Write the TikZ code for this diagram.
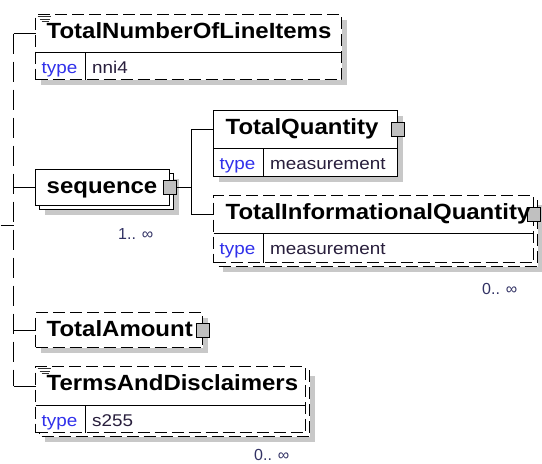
\documentclass[tikz,border=0pt]{standalone}
\usepackage{fontspec}
\setmainfont{Liberation Sans}
\usepackage{graphicx}
\definecolor{typeblue}{RGB}{48,48,235}
\definecolor{valcol}{RGB}{40,30,60}
\definecolor{multcol}{RGB}{50,50,100}
\definecolor{shadowgray}{RGB}{200,200,200}
\definecolor{sqgray}{RGB}{192,192,192}
\newcommand{\ttlx}[1]{\scalebox{1.09}[1]{#1}}
\newcommand{\smlx}[1]{\scalebox{1.11}[1]{#1}}
\tikzset{
  frame/.style={draw=black, fill=white, line width=1pt, anchor=north west, inner sep=0pt, outer sep=0pt},
  dsh/.style={dash pattern=on 12pt off 5pt},
  hdr/.style={anchor=north west, inner sep=0pt, outer sep=0pt, draw=none},
  sq/.style={draw=black, fill=sqgray, line width=1pt, minimum width=13pt, minimum height=14pt, inner sep=0pt, outer sep=0pt},
  conn/.style={draw=black, line width=1pt},
  trunkline/.style={conn, dash pattern=on 20pt off 8pt},
  iconline/.style={draw=black!80, line width=1pt},
  ttl/.style={anchor=base west, inner sep=0pt, font=\fontsize{22}{24}\selectfont\bfseries},
  typelbl/.style={anchor=base west, inner sep=0pt, text=typeblue, font=\fontsize{17}{19}\selectfont},
  vallbl/.style={anchor=base west, inner sep=0pt, text=valcol, font=\fontsize{17}{19}\selectfont},
  mult/.style={anchor=base east, inner sep=0pt, text=multcol, font=\fontsize{16}{18}\selectfont},
}
\begin{document}
\begin{tikzpicture}[x=1pt,y=-1pt]
\useasboundingbox (0,0) rectangle (542,464);
\begin{scope}[shift={(0.5,0.5)}]
% ---------- TotalNumberOfLineItems
\fill[shadowgray] (40,19) rectangle (346,84);
\node[frame,dsh,minimum width=306pt,minimum height=65pt] (tnliF) at (35,14) {};
\node[hdr,minimum width=306pt,minimum height=38pt] (tnli) at (35,14) {};
\draw[conn] (tnli.south west) -- (tnli.south east);
\draw[conn] (85,52) -- (85,79);
\draw[iconline] (37,16) -- (50,16) (39,18.5) -- (49,18.5) (41,21) -- (48,21);
\node[ttl] (tnliT) at (46,37.5) {\ttlx{TotalNumberOfLineItems}};
\node[typelbl] (tnliK) at (41,73) {\smlx{type}};
\node[vallbl] (tnliV) at (91.5,73) {\smlx{nni4}};
% ---------- sequence
\fill[shadowgray] (44,178) rectangle (178,214);
\draw[conn,fill=white] (39,173) rectangle (173,209);
\node[frame,minimum width=134pt,minimum height=36pt] (seq) at (35,169) {};
\node[sq] (seqsq) at (seq.east) {};
\node[ttl] (seqT) at (46,192.5) {\ttlx{sequence}};
\node[mult] (seqM) at (153,239) {1.. ∞};
% ---------- TotalQuantity
\fill[shadowgray] (218,115) rectangle (402,181);
\node[frame,minimum width=184pt,minimum height=66pt] (tqF) at (213,110) {};
\node[hdr,minimum width=184pt,minimum height=38pt] (tq) at (213,110) {};
\draw[conn] (tq.south west) -- (tq.south east);
\draw[conn] (263,148) -- (263,176);
\node[sq] (tqsq) at (tq.east) {};
\node[ttl] (tqT) at (225,133.5) {\ttlx{TotalQuantity}};
\node[typelbl] (tqK) at (219,169) {\smlx{type}};
\node[vallbl] (tqV) at (269.5,169) {\smlx{measurement}};
% ---------- TotalInformationalQuantity
\fill[shadowgray] (222,204) rectangle (542,271);
\draw[conn,dsh,fill=white] (217,199) rectangle (537,266);
\node[frame,dsh,minimum width=320pt,minimum height=67pt] (tiqF) at (213,195) {};
\node[hdr,minimum width=320pt,minimum height=38pt] (tiq) at (213,195) {};
\draw[conn] (tiq.south west) -- (tiq.south east);
\draw[conn] (263,233) -- (263,262);
\node[sq] (tiqsq) at (tiq.east) {};
\node[ttl] (tiqT) at (225,218.5) {\ttlx{TotalInformationalQuantity}};
\node[typelbl] (tiqK) at (219,254) {\smlx{type}};
\node[vallbl] (tiqV) at (269.5,254) {\smlx{measurement}};
\node[mult] (tiqM) at (517,294) {0.. ∞};
% ---------- TotalAmount
\fill[shadowgray] (40,317) rectangle (207,352);
\node[frame,dsh,minimum width=167pt,minimum height=35pt] (ta) at (35,312) {};
\node[sq] (tasq) at (ta.east) {};
\node[ttl] (taT) at (46,335.5) {\ttlx{TotalAmount}};
% ---------- TermsAndDisclaimers
\fill[shadowgray] (44,375) rectangle (314,441);
\draw[conn,dsh,fill=white] (39,370) rectangle (309,436);
\node[frame,dsh,minimum width=270pt,minimum height=66pt] (tadF) at (35,366) {};
\node[hdr,minimum width=270pt,minimum height=39pt] (tad) at (35,366) {};
\draw[conn] (tad.south west) -- (tad.south east);
\draw[conn] (85,405) -- (85,432);
\draw[iconline] (37,368) -- (50,368) (39,370.5) -- (49,370.5) (41,373) -- (48,373);
\node[ttl] (tadT) at (46,389.5) {\ttlx{TermsAndDisclaimers}};
\node[typelbl] (tadK) at (41,426) {\smlx{type}};
\node[vallbl] (tadV) at (91.5,426) {\smlx{s255}};
\node[mult] (tadM) at (289,460) {0.. ∞};
% ---------- connectors
\coordinate (trunk) at (13,225);
\coordinate (rootend) at (0,225);
\coordinate (br) at (191,187);
\draw[conn] (rootend) -- (trunk);
\draw[trunkline] (tnli.west -| trunk) -- (tad.west -| trunk);
\draw[conn] (tnli.west -| trunk) -- (tnli.west);
\draw[conn] (seq.west -| trunk) -- (seq.west);
\draw[conn] (ta.west -| trunk) -- (ta.west);
\draw[conn] (tad.west -| trunk) -- (tad.west);
\draw[conn] (seqsq.east) -- (br);
\draw[conn] (tq.west) -| (br) |- (tiq.west);
\end{scope}
\end{tikzpicture}
\end{document}
